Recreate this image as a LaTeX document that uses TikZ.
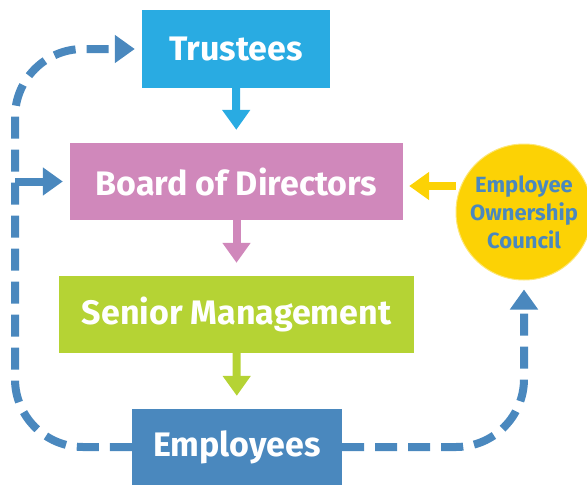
\documentclass[tikz,border=0pt]{standalone}
\usepackage{fontspec}
\setmainfont{Fira Sans}
\usetikzlibrary{calc, shapes, arrows.meta}
\definecolor{trblue}{HTML}{29ABE2}
\definecolor{bdpink}{HTML}{D088BB}
\definecolor{smgreen}{HTML}{B5D334}
\definecolor{emblue}{HTML}{4A88BE}
\definecolor{eocyellow}{HTML}{FCD205}
\begin{document}
\begin{tikzpicture}[x=1pt,y=-1pt,
    bx/.style={rectangle,text=white,font=\bfseries\fontsize{34}{40}\selectfont,inner sep=0pt},
    down/.style={line width=8pt,-{Triangle[length=20pt,width=27pt]},shorten >=13pt},
    dsh/.style={emblue,line width=8pt,dash pattern=on 22pt off 11pt,-{Triangle[length=20pt,width=27pt]}}]
            \useasboundingbox (0,0) rectangle (587,485);
            \draw (236,49)    node[bx,fill=trblue,minimum width=188pt,minimum height=78pt](tr){Trustees};
            \draw (236.5,181.5) node[bx,fill=bdpink,minimum width=333pt,minimum height=77pt](bd){Board of Directors};
            \draw (236.5,314.5) node[bx,fill=smgreen,minimum width=355pt,minimum height=77pt](sm){Senior Management};
            \draw (237,447)   node[bx,fill=emblue,minimum width=210pt,minimum height=76pt](em){Employees};
            \draw (524,212)   node[circle,fill=eocyellow,draw=eocyellow!55!white,line width=1pt,minimum size=136pt,inner sep=0pt,
                text=emblue,align=center,font=\bfseries\fontsize{22}{28}\selectfont](eoc){Employee\\Ownership\\Council};
            \coordinate (lft) at (15,300);

            \draw[down,trblue] (tr) -- (bd);
            \draw[down,bdpink] (bd) -- (sm);
            \draw[down,smgreen] (sm) -- (em);
            \draw[down,eocyellow,shorten >=6pt] (eoc.west |- 0,186) -- (bd.east |- 0,186);

            \begin{scope}[rounded corners=68pt]
                \draw[dsh,shorten >=7pt] (em.west) -| (lft) |- (tr.west);
                \draw[dsh,shorten >=9pt] (em.east) -| (eoc.south);
            \end{scope}
            \draw[emblue,line width=8pt,-{Triangle[length=20pt,width=27pt]},shorten >=7pt] (bd.west -| lft) -- (bd.west);
        \end{tikzpicture}
\end{document}
